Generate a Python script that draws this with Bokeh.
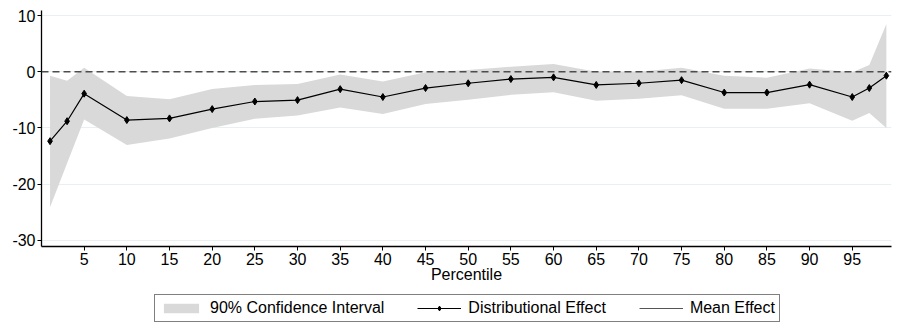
from bokeh.plotting import figure
from bokeh.layouts import column
from bokeh.models import ColumnDataSource, Span, Legend, LegendItem, FixedTicker, Range1d
from bokeh.embed import file_html
from bokeh.resources import INLINE

percentile = [1, 3, 5, 10, 15, 20, 25, 30, 35, 40, 45, 50, 55, 60, 65, 70, 75, 80, 85, 90, 95, 97, 99]
effect = [-12.35, -8.8, -3.9, -8.6, -8.3, -6.65, -5.3, -5.05, -3.1, -4.5, -2.9, -2.05, -1.3, -1.0,
          -2.35, -2.05, -1.5, -3.7, -3.7, -2.3, -4.5, -2.9, -0.7]
ci_upper = [-0.7, -1.6, 0.7, -4.3, -4.9, -3.05, -2.35, -2.2, -0.5, -1.75, -0.1, 0.3, 0.9, 1.4,
            0.0, 0.0, 0.7, -0.7, -1.05, 0.6, -0.1, 1.2, 8.5]
ci_lower = [-24.1, -16.3, -8.5, -13.05, -11.9, -10.0, -8.35, -7.8, -6.35, -7.5, -5.75, -5.0, -4.1, -3.65,
            -5.15, -4.8, -4.2, -6.6, -6.6, -5.6, -8.7, -7.35, -10.0]
# the mean effect is not visible inside the plotted area of the reference (legend entry only)
mean_effect_x = [float("nan")]
mean_effect_y = [float("nan")]
zero_line = 0
x_ticks = [5, 10, 15, 20, 25, 30, 35, 40, 45, 50, 55, 60, 65, 70, 75, 80, 85, 90, 95]
y_ticks = [-30, -20, -10, 0, 10]
y_tick_labels = ["-30", "-20", "-10", "0", "10"]
legend_labels = ["90% Confidence Interval", "Distributional Effect", "Mean Effect"]

FONT = "Liberation Sans"
BAND = "#d9d9d9"
MEAN_COLOR = "#555555"

p = figure(width=897, height=290, output_backend="svg", toolbar_location=None,
           x_range=Range1d(0, 99.6), y_range=Range1d(-31.1, 10.9),
           min_border_left=41, min_border_right=6, min_border_top=10, min_border_bottom=44)
p.outline_line_color = None
p.background_fill_color = "white"

src = ColumnDataSource(dict(x=percentile, y=effect, lo=ci_lower, hi=ci_upper))
p.varea(x="x", y1="lo", y2="hi", source=src, fill_color=BAND, fill_alpha=1.0)
p.add_layout(Span(location=zero_line, dimension="width", line_color="#4d4d4d",
                  line_dash="7 4", line_width=1.3))
p.line(x="x", y="y", source=src, line_color="black", line_width=1.2)
p.scatter(x="x", y="y", source=src, marker="diamond", size=7, color="black")
mean_src = ColumnDataSource(dict(x=mean_effect_x, y=mean_effect_y))
p.line(x="x", y="y", source=mean_src, line_color=MEAN_COLOR, line_width=1)

p.xgrid.visible = False
p.ygrid.grid_line_color = "#e8f0f2"
p.ygrid.grid_line_width = 1.2

for ax in (p.xaxis, p.yaxis):
    ax.axis_line_color = "black"
    ax.axis_line_width = 1.3
    ax.major_tick_line_color = "black"
    ax.major_tick_in = 0
    ax.major_tick_out = 4
    ax.minor_tick_line_color = None
    ax.major_label_text_font = FONT
    ax.major_label_text_font_size = "16px"
    ax.major_label_text_color = "black"

p.xaxis.ticker = FixedTicker(ticks=x_ticks)
p.yaxis.ticker = FixedTicker(ticks=y_ticks)
p.yaxis.major_label_overrides = dict(zip(y_ticks, y_tick_labels))
p.yaxis.major_label_standoff = 2
p.xaxis.major_label_standoff = 2
p.xaxis.axis_label = "Percentile"
p.xaxis.axis_label_text_font = FONT
p.xaxis.axis_label_text_font_size = "16px"
p.xaxis.axis_label_text_font_style = "normal"
p.xaxis.axis_label_text_color = "black"
p.xaxis.axis_label_standoff = -2

# legend strip below the chart (proxy renderers hold no visible data)
lf = figure(width=897, height=34, output_backend="svg", toolbar_location=None,
            x_range=Range1d(0, 1), y_range=Range1d(0, 1),
            x_axis_location=None, y_axis_location=None,
            min_border_left=0, min_border_right=0, min_border_top=0, min_border_bottom=0)
lf.outline_line_color = None
lf.grid.visible = False
proxy = ColumnDataSource(dict(x=mean_effect_x, y=mean_effect_y))
r_band = lf.varea(x="x", y1="y", y2="y", source=proxy, fill_color=BAND)
r_line = lf.line(x="x", y="y", source=proxy, line_color="black", line_width=1.2)
r_pts = lf.scatter(x="x", y="y", source=proxy, marker="diamond", size=7, color="black")
r_mean = lf.line(x="x", y="y", source=proxy, line_color=MEAN_COLOR, line_width=1)

legend = Legend(items=[
    LegendItem(label=legend_labels[0], renderers=[r_band]),
    LegendItem(label=legend_labels[1], renderers=[r_line, r_pts]),
    LegendItem(label=legend_labels[2], renderers=[r_mean]),
], orientation="horizontal", location=(113, 2))
legend.label_text_font = FONT
legend.label_text_font_size = "16px"
legend.label_text_color = "black"
legend.label_height = 17
legend.border_line_color = "black"
legend.border_line_width = 1
legend.glyph_width = 44
legend.glyph_height = 12
legend.spacing = 33
legend.padding = 4
legend.margin = 0
legend.label_standoff = 7
legend.background_fill_alpha = 1.0
lf.add_layout(legend, "center")

layout = column(p, lf, spacing=0)
open("out.html", "w").write(file_html(layout, INLINE))
